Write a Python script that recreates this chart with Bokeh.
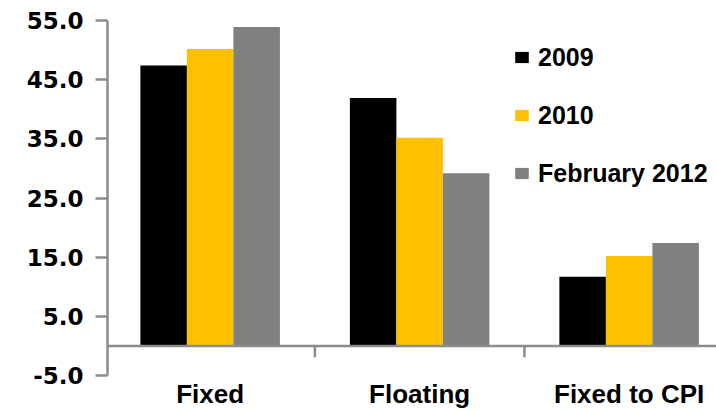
import numpy as np
from bokeh.plotting import figure
from bokeh.models import (ColumnDataSource, FixedTicker, Span, Range1d, Legend, LegendItem,
                          NumeralTickFormatter)
from bokeh.embed import file_html
from bokeh.resources import INLINE

categories = ["Fixed", "Floating", "Fixed to CPI"]
series = ["2009", "2010", "February 2012"]
v2009 = [47.4, 41.9, 11.7]
v2010 = [50.2, 35.2, 15.2]
vfeb2012 = [53.9, 29.2, 17.4]
colors = ["#000000", "#FFC000", "#808080"]
y_ticks = [-5, 5, 15, 25, 35, 45, 55]

values = [v2009, v2010, vfeb2012]
n = len(categories)
centers = np.arange(n) + 0.5
bar_w = 0.222

p = figure(width=716, height=411, output_backend="svg", toolbar_location=None,
           x_range=Range1d(0.01, 2.917), y_range=Range1d(-5, 55),
           min_border_left=107, min_border_right=0, min_border_top=20, min_border_bottom=34)
p.outline_line_color = None
p.xgrid.visible = False
p.ygrid.visible = False
p.background_fill_color = "white"
p.border_fill_color = "white"

items = []
for i, (name, vals, col) in enumerate(zip(series, values, colors)):
    src = ColumnDataSource(dict(x=centers + (i - 1) * bar_w, top=vals))
    r = p.vbar(x="x", top="top", bottom=0, width=bar_w, source=src,
               fill_color=col, line_color=None)
    items.append(LegendItem(label=name, renderers=[r]))

zero = Span(location=0, dimension="width", line_color="#8c8c8c", line_width=2.5)
p.add_layout(zero)

# category boundary ticks below the zero line
bx = np.arange(1, n)
p.segment(x0=bx, y0=np.zeros(len(bx)), x1=bx, y1=np.full(len(bx), -1.9),
          line_color="#8c8c8c", line_width=2.5)

# y axis
ya = p.yaxis[0]
ya.ticker = FixedTicker(ticks=y_ticks)
ya.formatter = NumeralTickFormatter(format="0.0")
ya.axis_line_color = "#8c8c8c"
ya.axis_line_width = 2.5
ya.major_tick_line_color = "#8c8c8c"
ya.major_tick_line_width = 2.5
ya.major_tick_out = 12
ya.major_tick_in = 0
ya.minor_tick_line_color = None
ya.major_label_standoff = 12
ya.major_label_text_font = "DejaVu Sans"
ya.major_label_text_font_style = "bold"
ya.major_label_text_font_size = "23px"
ya.major_label_text_color = "#000000"

# x axis (labels only)
xa = p.xaxis[0]
xa.ticker = FixedTicker(ticks=list(centers))
xa.major_label_overrides = {float(c): lab for c, lab in zip(centers, categories)}
xa.axis_line_color = None
xa.major_tick_line_color = None
xa.major_tick_out = 0
xa.major_tick_in = 0
xa.minor_tick_line_color = None
xa.minor_tick_out = 0
xa.minor_tick_in = 0
xa.major_label_standoff = 3
xa.major_label_text_font = "Liberation Sans"
xa.major_label_text_font_style = "bold"
xa.major_label_text_font_size = "26px"
xa.major_label_text_color = "#000000"

legend = Legend(items=items, location=(406, 187))
legend.border_line_color = None
legend.background_fill_alpha = 0
legend.padding = 0
legend.margin = 0
legend.glyph_width = 17
legend.glyph_height = 14
legend.label_height = 30
legend.spacing = 28
legend.label_standoff = 8
legend.label_text_font = "Liberation Sans"
legend.label_text_font_style = "bold"
legend.label_text_font_size = "25px"
legend.label_text_color = "#000000"
p.add_layout(legend)

open("out.html", "w").write(file_html(p, INLINE))
